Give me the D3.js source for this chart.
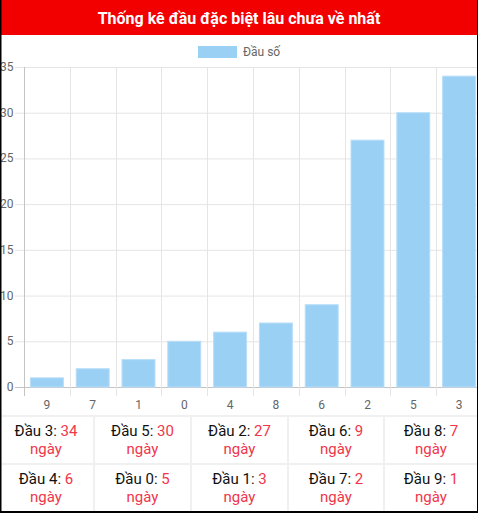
<!DOCTYPE html>
<html>
<head>
<meta charset="utf-8">
<script src="https://cdn.jsdelivr.net/npm/d3@7"></script>
<style>
  html, body { margin: 0; padding: 0; background: #fff; }
  #wrap { position: relative; width: 478px; height: 513px; overflow: hidden; font-family: Roboto, "Noto Sans", sans-serif; }
  #wrap svg { position: absolute; left: 0; top: 0; }
</style>
</head>
<body>
<div id="wrap"></div>
<script>
const title = "Thống kê đầu đặc biệt lâu chưa về nhất";
const legendLabel = "Đầu số";
const categories = ["9", "7", "1", "0", "4", "8", "6", "2", "5", "3"];
const values = [1, 2, 3, 5, 6, 7, 9, 27, 30, 34];
const yTicks = [0, 5, 10, 15, 20, 25, 30, 35];
const tableHeads = ["3", "5", "2", "6", "8", "4", "0", "1", "7", "9"];
const tableDays = [34, 30, 27, 9, 7, 6, 5, 3, 2, 1];
const dayWord = "ngày";

const W = 478, H = 513;
const barFill = "#9bd0f5";
const red = "#f0364a";

const svg = d3.select("#wrap").append("svg").attr("width", W).attr("height", H);

// title bar
svg.append("rect").attr("x", 0).attr("y", 0).attr("width", W).attr("height", 35).attr("fill", "#f20000");
svg.append("text").attr("x", 239).attr("y", 18).attr("text-anchor", "middle").attr("dominant-baseline", "central")
  .attr("fill", "#fff").attr("font-weight", "bold").attr("font-size", 16).text(title);

// legend
svg.append("rect").attr("x", 198).attr("y", 46).attr("width", 39).attr("height", 12).attr("fill", barFill);
svg.append("text").attr("x", 243).attr("y", 52).attr("dominant-baseline", "central")
  .attr("fill", "#666").attr("font-size", 12).text(legendLabel);

// scales
const x = d3.scaleBand().domain(categories).range([24, 24 + 45.8 * categories.length]).padding(0);
const y = d3.scaleLinear().domain([0, 35]).range([387, 67]);

// horizontal grid
const g = svg.append("g");
g.selectAll("line.h").data(yTicks).join("line")
  .attr("x1", 15).attr("x2", x.range()[1])
  .attr("y1", d => y(d) + 0.5).attr("y2", d => y(d) + 0.5)
  .attr("stroke", d => d === 0 ? "#c4c4c4" : "#e5e5e5").attr("stroke-width", 1);
g.selectAll("text.yl").data(yTicks).join("text")
  .attr("x", 13.5).attr("y", d => y(d)).attr("text-anchor", "end").attr("dominant-baseline", "central")
  .attr("fill", "#666").attr("font-size", 12).text(d => d);

// vertical grid at band boundaries
const bounds = categories.map(c => x(c));
g.selectAll("line.v").data(bounds).join("line")
  .attr("x1", d => Math.round(d) + 0.5).attr("x2", d => Math.round(d) + 0.5)
  .attr("y1", 67).attr("y2", 396)
  .attr("stroke", (d, i) => i === 0 ? "#c4c4c4" : "#e5e5e5").attr("stroke-width", 1);

// x labels
g.selectAll("text.xl").data(categories).join("text")
  .attr("x", d => x(d) + x.bandwidth() / 2).attr("y", 405)
  .attr("text-anchor", "middle").attr("dominant-baseline", "central")
  .attr("fill", "#666").attr("font-size", 12).text(d => d);

// bars
const bw = x.bandwidth() * 0.72;
svg.append("g").selectAll("rect").data(values).join("rect")
  .attr("x", (d, i) => x(categories[i]) + (x.bandwidth() - bw) / 2)
  .attr("y", d => y(d))
  .attr("width", bw)
  .attr("height", d => y(0) - y(d))
  .attr("fill", barFill)
  .attr("stroke", "#b9def8").attr("stroke-width", 1);

// table
const colEdges = [0, 94, 191, 288, 384, 478];
const rowEdges = [416, 464, 512];
const tg = svg.append("g");
rowEdges.forEach(ry => {
  tg.append("line").attr("x1", 0).attr("x2", W).attr("y1", ry).attr("y2", ry)
    .attr("stroke", "#f0f0f0").attr("stroke-width", 2);
});
colEdges.slice(1, 5).forEach(cx => {
  tg.append("line").attr("x1", cx).attr("x2", cx).attr("y1", 416).attr("y2", 512)
    .attr("stroke", "#f0f0f0").attr("stroke-width", 2);
});
tableHeads.forEach((h, i) => {
  const col = i % 5, row = Math.floor(i / 5);
  const cx = col === 0 ? 46 : (colEdges[col] + colEdges[col + 1]) / 2;
  const top = rowEdges[row];
  const t = tg.append("text").attr("x", cx).attr("y", top + 15).attr("text-anchor", "middle")
    .attr("dominant-baseline", "central").attr("font-size", 15);
  t.append("tspan").attr("fill", "#111").text("Đầu " + h + ": ");
  t.append("tspan").attr("fill", red).text(tableDays[i]);
  tg.append("text").attr("x", cx).attr("y", top + 33).attr("text-anchor", "middle")
    .attr("dominant-baseline", "central").attr("font-size", 15).attr("fill", red).text(dayWord);
});

// outer black border
svg.append("rect").attr("x", 0).attr("y", 0).attr("width", 1.5).attr("height", H).attr("fill", "#000");
svg.append("rect").attr("x", 477).attr("y", 0).attr("width", 1).attr("height", H).attr("fill", "#000");
svg.append("rect").attr("x", 0).attr("y", 511).attr("width", W).attr("height", 2).attr("fill", "#000");
</script>
</body>
</html>
